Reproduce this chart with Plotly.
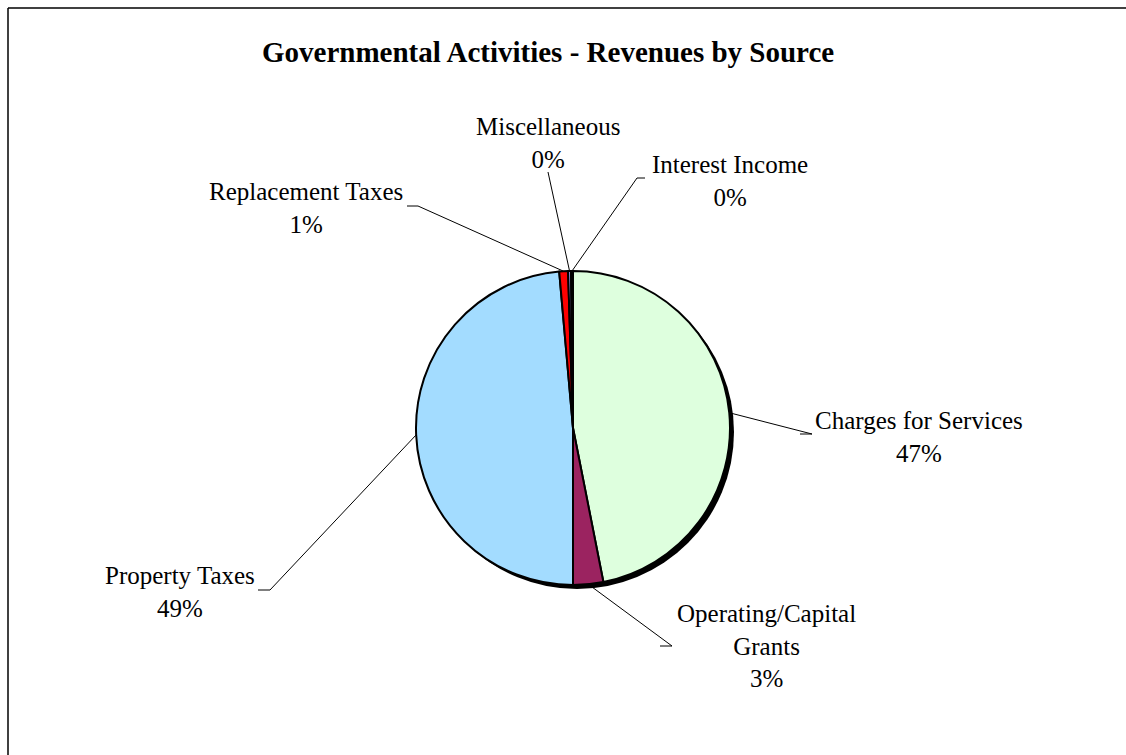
import math
import plotly.graph_objects as go

# ---- data ----
categories = ["Charges for Services", "Operating/Capital Grants", "Property Taxes",
              "Replacement Taxes", "Miscellaneous", "Interest Income"]
label_text = ["Charges for Services", "Operating/Capital<br>Grants", "Property Taxes",
              "Replacement Taxes", "Miscellaneous", "Interest Income"]
values = [46.9, 3.1, 48.6, 0.9, 0.3, 0.2]
colors = ["#DEFFDE", "#9B2360", "#A3DCFF", "#FF0000", "#A0A0F0", "#FFFFFF"]

W, H = 1126, 755
CX, CY, R = 573, 428, 157  # pie geometry in pixels

# label anchor (center of text block) and leader stub endpoints, pixels
label_pos = [(919, 437), (766, 646), (180, 592), (306, 208), (548, 143), (730, 181)]
stub = [((800, 434), (812, 434)), ((660, 646), (672, 646)), ((258, 590), (270, 590)),
        ((407, 206), (418, 206)), ((548, 172), (548, 172)), ((645, 178), (637, 178))]

def px(x):
    return x / W

def py(y):
    return 1 - y / H

total = sum(values)
pcts = [f"{round(v / total * 100):.0f}%" for v in values]

fig = go.Figure()
dom_x = [px(CX - R), px(CX + R)]
dom_y = [py(CY + R), py(CY - R)]
# shadow
fig.add_trace(go.Pie(values=[1], marker=dict(colors=["black"], line=dict(width=0)),
                     domain=dict(x=[d + 4 / W for d in dom_x], y=[d - 4 / H for d in dom_y]),
                     textinfo="none", hoverinfo="skip", showlegend=False, sort=False))
fig.add_trace(go.Pie(labels=categories, values=values, sort=False, direction="clockwise",
                     rotation=0, marker=dict(colors=colors, line=dict(color="black", width=2)),
                     domain=dict(x=dom_x, y=dom_y), textinfo="none", showlegend=False))

shapes = []
cum = 0
for i, v in enumerate(values):
    mid = (cum + v / 2) / total * 2 * math.pi
    cum += v
    ex = CX + R * math.sin(mid)
    ey = CY - R * math.cos(mid)
    (sx0, sy0), (sx1, sy1) = stub[i]
    shapes.append(dict(type="line", xref="paper", yref="paper", x0=px(ex), y0=py(ey),
                       x1=px(sx1), y1=py(sy1), line=dict(color="black", width=1)))
    if (sx0, sy0) != (sx1, sy1):
        shapes.append(dict(type="line", xref="paper", yref="paper", x0=px(sx0), y0=py(sy0),
                           x1=px(sx1), y1=py(sy1), line=dict(color="black", width=1)))

# frame
shapes.append(dict(type="line", xref="paper", yref="paper", x0=px(8), y0=py(8), x1=1, y1=py(8),
                   line=dict(color="black", width=1.5)))
shapes.append(dict(type="line", xref="paper", yref="paper", x0=px(8), y0=py(8), x1=px(8), y1=0,
                   line=dict(color="black", width=1.5)))

font = "Liberation Serif, Times New Roman, serif"
annotations = [dict(text="<b>Governmental Activities - Revenues by Source</b>", x=px(548), y=py(52),
                    xref="paper", yref="paper", showarrow=False, xanchor="center", yanchor="middle",
                    font=dict(family=font, size=29, color="black"))]
for i in range(len(values)):
    lx, ly = label_pos[i]
    annotations.append(dict(text=f"{label_text[i]}<br>{pcts[i]}", x=px(lx), y=py(ly),
                            xref="paper", yref="paper", showarrow=False, align="center",
                            xanchor="center", yanchor="middle",
                            font=dict(family=font, size=25, color="black")))

fig.update_layout(width=W, height=H, margin=dict(l=0, r=0, t=0, b=0),
                  paper_bgcolor="white", plot_bgcolor="white",
                  shapes=shapes, annotations=annotations)
fig.write_html("out.html")
